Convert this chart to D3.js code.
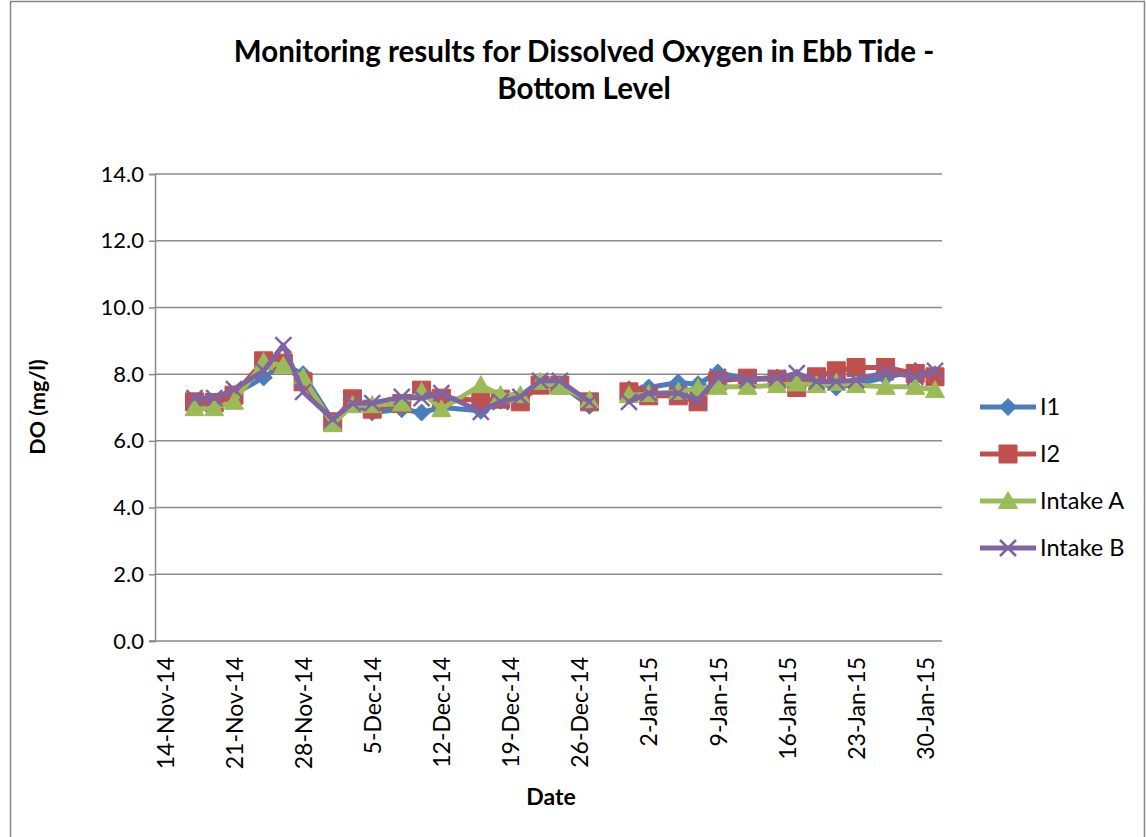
<!DOCTYPE html>
<html>
<head>
<meta charset="utf-8">
<script src="https://cdn.jsdelivr.net/npm/d3@7"></script>
<style>
  html, body { margin: 0; padding: 0; background: #fff; }
  svg { display: block; font-family: Lato, "Open Sans", sans-serif; }
</style>
</head>
<body>
<svg id="chart" width="1146" height="837"></svg>
<script>
// ---------------- data ----------------
const dateStrings = [
  "2014-11-17","2014-11-19","2014-11-21","2014-11-24","2014-11-26","2014-11-28",
  "2014-12-01","2014-12-03","2014-12-05","2014-12-08","2014-12-10","2014-12-12",
  "2014-12-16","2014-12-18","2014-12-20","2014-12-22","2014-12-24","2014-12-27",
  "2014-12-29","2014-12-31","2015-01-02","2015-01-05","2015-01-07","2015-01-09",
  "2015-01-12","2015-01-15","2015-01-17","2015-01-19","2015-01-21","2015-01-23",
  "2015-01-26","2015-01-29","2015-01-31"
];
const seriesNames = ["I1", "I2", "Intake A", "Intake B"];
const valuesI1 = [7.1, 7.1, 7.4, 7.9, 8.3, 8.0, 6.6, 7.1, 6.85, 6.95, 6.85, 7.0,
  6.9, 7.2, 7.3, 7.7, 7.7, 7.05, null, 7.55, 7.6, 7.75, 7.7, 8.05,
  7.85, 7.9, 7.9, 7.75, 7.6, 7.7, 7.9, 8.1, 8.0];
const valuesI2 = [7.17, 7.15, 7.37, 8.4, 8.33, 7.77, 6.57, 7.26, 6.95, 7.12, 7.52, 7.28,
  7.22, 7.25, 7.17, 7.67, 7.67, 7.17, null, 7.47, 7.35, 7.35, 7.17, 7.8,
  7.88, 7.85, 7.6, 7.92, 8.1, 8.2, 8.2, 8.02, 7.92];
const valuesIntakeA = [6.98, 6.98, 7.17, 8.37, 8.25, 7.9, 6.5, 7.07, 7.07, 7.12, 7.47, 6.95,
  7.67, 7.37, 7.37, 7.77, 7.62, 7.22, null, 7.37, 7.4, 7.47, 7.58, 7.62,
  7.62, 7.67, 7.72, 7.67, 7.74, 7.67, 7.62, 7.62, 7.52];
const valuesIntakeB = [7.28, 7.28, 7.55, 8.1, 8.87, 7.47, 6.65, 7.13, 7.13, 7.32, 7.28, 7.43,
  6.87, 7.17, 7.32, 7.8, 7.8, 7.17, null, 7.17, 7.43, 7.43, 7.22, 7.92,
  7.83, 7.88, 8.03, 7.78, 7.78, 7.82, 8.06, 7.92, 8.1];
const xTickStrings = ["2014-11-14","2014-11-21","2014-11-28","2014-12-05","2014-12-12",
  "2014-12-19","2014-12-26","2015-01-02","2015-01-09","2015-01-16","2015-01-23","2015-01-30"];
const yTickValues = [0, 2, 4, 6, 8, 10, 12, 14];
const titleLines = ["Monitoring results for Dissolved Oxygen in Ebb Tide -", "Bottom Level"];
const xTitle = "Date";
const yTitle = "DO (mg/l)";

// ---------------- layout ----------------
const parse = d3.timeParse("%Y-%m-%d");
const dates = dateStrings.map(parse);
const xTicks = xTickStrings.map(parse);
const plot = { left: 155, right: 942, top: 174, bottom: 641 };
const colors = ["#4A7EBB", "#C0504D", "#9BBB59", "#8064A2"];
const markerTypes = ["diamond", "square", "triangle", "x"];

const x = d3.scaleTime()
  .domain([new Date(2014, 10, 13), new Date(2015, 0, 31, 17)])
  .range([plot.left, plot.right]);
const y = d3.scaleLinear().domain([0, 14]).range([plot.bottom, plot.top]);

const svg = d3.select("#chart");

// outer border
svg.append("rect").attr("x", 10.5).attr("y", 1.5).attr("width", 1134).attr("height", 840)
  .attr("fill", "none").attr("stroke", "#868686").attr("stroke-width", 1.5);

// gridlines
svg.append("g").selectAll("line").data(yTickValues.filter(v => v > 0)).join("line")
  .attr("x1", plot.left).attr("x2", plot.right)
  .attr("y1", d => y(d)).attr("y2", d => y(d))
  .attr("stroke", "#8a8a8a").attr("stroke-width", 1.5);

// y axis
const yAxis = d3.axisLeft(y).tickValues(yTickValues).tickFormat(d3.format(".1f")).tickSize(6).tickPadding(5);
const gy = svg.append("g").attr("transform", `translate(${plot.left},0)`).call(yAxis);
gy.select(".domain").attr("stroke", "#8a8a8a").attr("stroke-width", 1.5);
gy.selectAll(".tick line").attr("stroke", "#8a8a8a").attr("stroke-width", 1.5);
gy.selectAll(".tick text").attr("font-size", 22).attr("fill", "#000")
  .attr("font-family", "Lato, sans-serif");

// x axis
const xAxis = d3.axisBottom(x).tickValues(xTicks).tickFormat(d3.timeFormat("%-d-%b-%y")).tickSize(0);
const gx = svg.append("g").attr("transform", `translate(0,${plot.bottom})`).call(xAxis);
gx.select(".domain").remove();
gx.selectAll(".tick text")
  .attr("font-size", 23).attr("fill", "#000").attr("font-family", "Lato, sans-serif")
  .attr("text-anchor", "end")
  .attr("transform", "rotate(-90)")
  .attr("x", -16).attr("y", 0).attr("dy", "0.36em");
svg.append("line").attr("x1", plot.left - 6).attr("x2", plot.right)
  .attr("y1", plot.bottom).attr("y2", plot.bottom)
  .attr("stroke", "#8a8a8a").attr("stroke-width", 1.5);

// marker generator
function markerPath(type) {
  switch (type) {
    case "diamond": return "M0,-8.5L8.5,0L0,8.5L-8.5,0Z";
    case "square": return "M-9,-9H9V9H-9Z";
    case "triangle": return "M0,-9.5L9.5,7.5H-9.5Z";
    case "x": return "M-8,-8L8,8M-8,8L8,-8";
  }
}
function drawMarker(g, type, color) {
  const p = g.append("path").attr("d", markerPath(type));
  if (type === "x") p.attr("fill", "none").attr("stroke", color).attr("stroke-width", 2.5);
  else p.attr("fill", color).attr("stroke", color).attr("stroke-width", 1);
}

// series
const allValues = [valuesI1, valuesI2, valuesIntakeA, valuesIntakeB];
const line = d3.line().defined(d => d.v != null).x(d => x(d.date)).y(d => y(d.v));
allValues.forEach((vals, i) => {
  const pts = dates.map((date, j) => ({ date, v: vals[j] }));
  const g = svg.append("g");
  g.append("path").datum(pts).attr("d", line)
    .attr("fill", "none").attr("stroke", colors[i]).attr("stroke-width", 5)
    .attr("stroke-linejoin", "round").attr("stroke-linecap", "round");
  pts.filter(d => d.v != null).forEach(d => {
    const m = g.append("g").attr("transform", `translate(${x(d.date)},${y(d.v)})`);
    drawMarker(m, markerTypes[i], colors[i]);
  });
});

// title
svg.append("text").attr("x", 584).attr("y", 0).attr("text-anchor", "middle")
  .attr("font-size", 29.5).attr("font-weight", "bold").attr("fill", "#000")
  .selectAll("tspan").data(titleLines).join("tspan")
  .attr("x", 584).attr("y", (d, i) => 62 + i * 37).text(d => d);

// axis titles
svg.append("text").attr("x", 551).attr("y", 805).attr("text-anchor", "middle")
  .attr("font-size", 23).attr("font-weight", "bold").text(xTitle);
svg.append("text").attr("transform", "translate(45,407) rotate(-90)").attr("text-anchor", "middle")
  .attr("font-size", 21.5).attr("font-weight", "bold").text(yTitle);

// legend
const legendY = [407, 454, 501, 548];
seriesNames.forEach((name, i) => {
  const g = svg.append("g").attr("transform", `translate(0,${legendY[i]})`);
  g.append("line").attr("x1", 980).attr("x2", 1036).attr("y1", 0).attr("y2", 0)
    .attr("stroke", colors[i]).attr("stroke-width", 5);
  const m = g.append("g").attr("transform", "translate(1008,0)");
  drawMarker(m, markerTypes[i], colors[i]);
  g.append("text").attr("x", 1040).attr("y", 0).attr("dy", "0.35em")
    .attr("font-size", 23.5).attr("fill", "#000").text(name);
});
</script>
</body>
</html>
